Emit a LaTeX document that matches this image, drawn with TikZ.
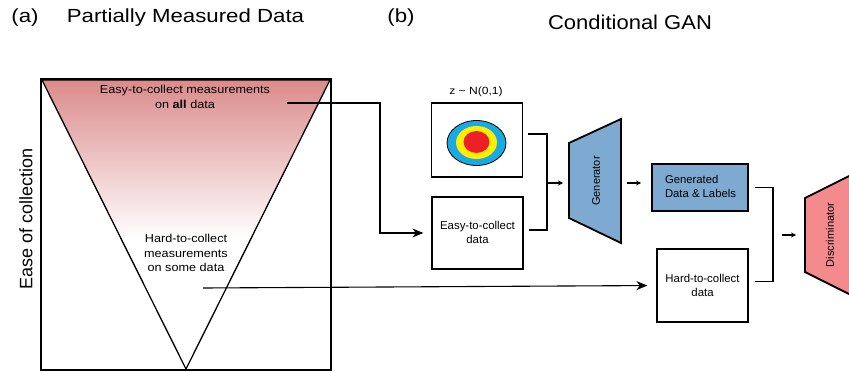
\documentclass[tikz,border=0pt]{standalone}
\usepackage{fontspec}
\setmainfont{Liberation Sans}
\usetikzlibrary{arrows.meta,calc}
\definecolor{pinktop}{RGB}{219,138,138}
\definecolor{genblue}{RGB}{126,170,210}
\definecolor{discpink}{RGB}{243,138,142}
\definecolor{ringblue}{RGB}{25,170,228}
\definecolor{ringyellow}{RGB}{255,238,0}
\definecolor{ringred}{RGB}{236,32,38}
\begin{document}
\begin{tikzpicture}[x=1pt,y=-1pt,
  titletext/.style={font=\fontsize{19}{22}\selectfont, xscale=1.17, transform shape, inner sep=0pt},
  bigtitle/.style={font=\fontsize{20}{24}\selectfont, xscale=1.1, transform shape, inner sep=0pt},
  smalltext/.style={font=\fontsize{11.5}{14.5}\selectfont, xscale=1.1, transform shape, align=center, inner sep=0pt},
  boxtext/.style={font=\fontsize{11.4}{14}\selectfont, align=center, inner sep=0pt},
  rottext/.style={font=\fontsize{11}{13}\selectfont, rotate=90, inner sep=0pt},
  databox/.style={draw, line width=1.3pt, minimum width=91pt, minimum height=73pt, inner sep=0pt},
  conn/.style={line width=1.1pt},
  smallarrow/.style={line width=1.1pt, -{Stealth[length=5pt,width=5pt]}},
  bigarrow/.style={line width=1.1pt, -{Stealth[length=11pt,width=9pt]}}
]
\useasboundingbox (0,0) rectangle (849,372);

% titles
\node[titletext] (ta) at (25,18) {(a)};
\node[titletext] (tpm) at (185.5,18) {Partially Measured Data};
\node[titletext] (tb) at (401,18) {(b)};
\node[bigtitle] (tcg) at (630,22.5) {Conditional GAN};

% panel (a)
\begin{scope}
  \clip (42,80) -- (330,80) -- (186,369) -- cycle;
  \shade[top color=pinktop, bottom color=white] (40,79) rectangle (332,240);
\end{scope}
\draw[line width=1.3pt] (42,80) -- (330,80) -- (186,369) -- cycle;
\draw[line width=2pt] (41,79) rectangle (331,370);
\node[font=\fontsize{18}{20}\selectfont, rotate=90, inner sep=0pt] (ease) at (26,219) {Ease of collection};

\node[smalltext] (easymeas) at (185,97) {Easy-to-collect measurements\\on \textbf{all} data};
\node[smalltext] (hardmeas) at (186,253) {Hard-to-collect\\measurements\\on some data};

% panel (b)
\node[databox, minimum height=74pt] (noise) at (477,140) {};
\node[font=\fontsize{10.5}{13}\selectfont, xscale=1.15, transform shape, inner sep=0pt] (zlab) at (476,92) {z \textasciitilde{} N(0,1)};
\filldraw[fill=ringblue, draw=black, line width=0.8pt] (476.5,143) ellipse [x radius=29.5, y radius=22.5];
\fill[ringyellow] (476.5,142.5) ellipse [x radius=20.5, y radius=16.5];
\fill[ringred] (476.5,142) ellipse [x radius=13, y radius=11];

\node[databox, minimum height=72pt] (easy) at (477.5,233) {};
\node[boxtext] (easylab) at (477.5,232) {Easy-to-collect\\data};

\draw[fill=genblue, line width=1.8pt] (569,143) -- (621,119) -- (621,243) -- (569,218) -- cycle;
\node[rottext] (gen) at (596,181) {Generator};

\node[draw, fill=genblue, line width=2pt, minimum width=96pt, minimum height=47pt, inner sep=0pt] (genbox) at (700,187.5) {};
\node[boxtext, align=left, font=\fontsize{11.3}{13.5}\selectfont] (genlab) at (700.5,186.5) {Generated\\Data \& Labels};

\node[databox] (hard) at (702.5,285.5) {};
\node[boxtext] (hardlab) at (702.5,285.5) {Hard-to-collect\\data};

\draw[fill=discpink, line width=1.8pt] (805,198) -- (865,168) -- (865,302) -- (805,272) -- cycle;
\node[rottext] (disc) at (830,235) {Discriminator};

% connectors
\coordinate (e1) at (287,103);
\coordinate (h1) at (203,288);
\coordinate (jn) at (547,183);
\coordinate (jd) at (773,235);

\draw[bigarrow, shorten >=8pt] (e1) -- (380,103) |- (easy.west);
\draw[bigarrow, shorten >=9pt] (h1) -- (hard.west);

\draw[conn] ($(noise.east)+(5,-6)$) -| (jn);
\draw[conn] ($(easy.east)+(5,-3)$) -| (jn);
\draw[smallarrow] (jn) -- (563,183);
\draw[smallarrow] (627,183) -- (641,183);

\draw[conn] ($(genbox.east)+(6,0)$) -| (jd);
\draw[conn] ($(hard.east)+(6,-4)$) -| (jd);
\draw[smallarrow] (782,235) -- (796,235);
\end{tikzpicture}
\end{document}
